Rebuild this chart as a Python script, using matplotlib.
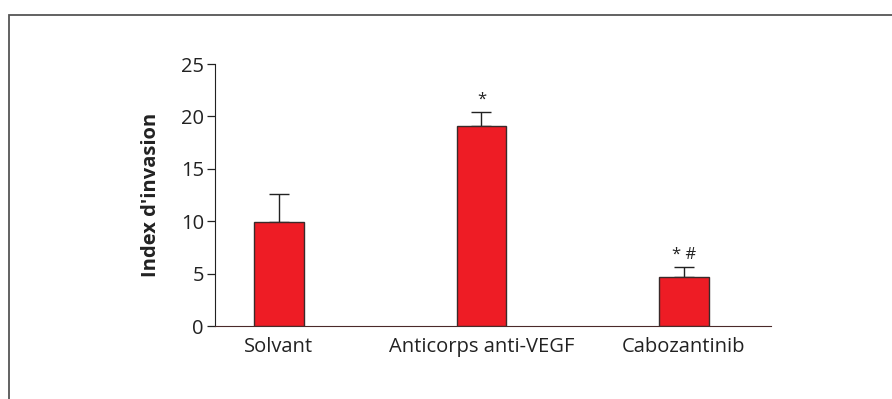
import matplotlib
matplotlib.use("Agg")
import matplotlib.pyplot as plt
from matplotlib.patches import Rectangle

categories = ["Solvant", "Anticorps anti-VEGF", "Cabozantinib"]
values = [9.9, 19.1, 4.7]
errors = [2.7, 1.3, 0.9]
marks = ["", "*", "* #"]

plt.rcParams['font.family'] = ['Open Sans', 'DejaVu Sans']

fig = plt.figure(figsize=(8.92, 3.99), dpi=100)
W, H = 892, 399
ax = fig.add_axes([215 / W, (H - 326) / H, (771 - 215) / W, (326 - 64) / H])

# outer frame
fig.patches.append(Rectangle((9 / W, -0.1), 1.2, (H - 15) / H + 0.1, transform=fig.transFigure,
                             fill=False, edgecolor='#555555', linewidth=1.3))

x = list(range(len(categories)))
ax.bar(x, values, width=0.245, color='#ee1c25', edgecolor='#3a2a2a', linewidth=1.0, zorder=3)
ax.errorbar(x, values, yerr=[[0] * len(values), errors], fmt='none', ecolor='#222222',
            elinewidth=1.0, capsize=7, capthick=1.0, zorder=2)
for xi, v, e, m in zip(x, values, errors, marks):
    if m:
        ax.text(xi, v + e + 0.4, m, ha='center', va='bottom', fontsize=12, color='#222222')

ax.set_xlim(-0.316, 2.43)
ax.set_ylim(0, 25)
ax.set_yticks([0, 5, 10, 15, 20, 25])
ax.set_xticks(x)
ax.set_xticklabels(categories)
ax.tick_params(axis='x', length=0, labelsize=14.5, pad=8, colors='#222222')
ax.tick_params(axis='y', length=6, width=0.9, labelsize=14.5, pad=2, colors='#222222')
ax.spines['top'].set_visible(False)
ax.spines['right'].set_visible(False)
ax.spines['left'].set_color('#222222')
ax.spines['bottom'].set_color('#4a2a2a')
ax.set_ylabel("Index d'invasion", fontsize=14.5, fontweight='bold', color='#222222')
ax.yaxis.set_label_coords(-0.097, 0.5)

fig.savefig("out.png", dpi=100)
